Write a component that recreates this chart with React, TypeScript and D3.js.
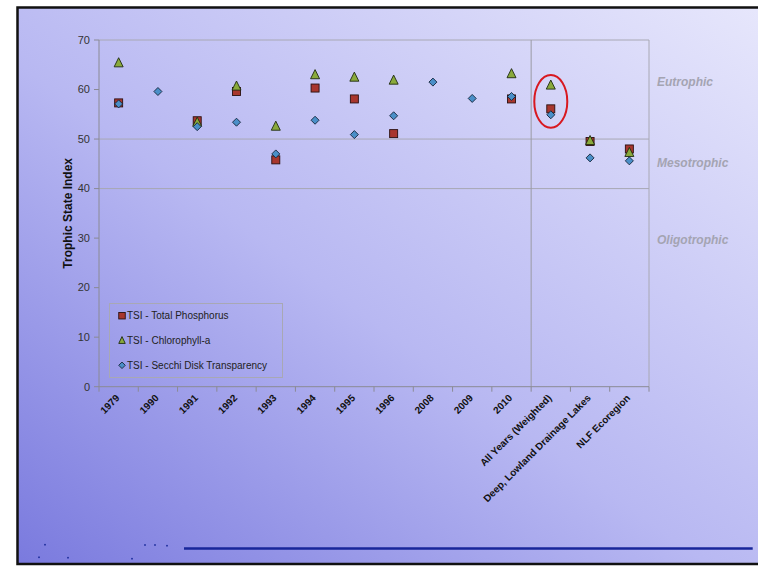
import React from "react";
import * as d3 from "d3";

// Categories along the x axis
const categories = [
  "1979", "1990", "1991", "1992", "1993", "1994", "1995", "1996",
  "2008", "2009", "2010", "All Years (Weighted)", "Deep, Lowland Drainage Lakes", "NLF Ecoregion",
];

// TSI values per category (null = not sampled)
const totalPhosphorus: (number | null)[] = [57.3, null, 53.7, 59.6, 45.8, 60.3, 58.1, 51.1, null, null, 58.1, 56.1, 49.5, 48.0];
const chlorophyll: (number | null)[] = [65.4, null, 53.4, 60.7, 52.6, 63.0, 62.5, 61.9, null, null, 63.2, 60.9, 49.7, 47.3];
const secchi: (number | null)[] = [57.1, 59.6, 52.5, 53.4, 47.0, 53.8, 50.9, 54.7, 61.5, 58.2, 58.6, 54.9, 46.2, 45.6];

const yTicks = [0, 10, 20, 30, 40, 50, 60, 70];
const gridValues = [40, 50];
const seriesNames = ["TSI - Total Phosphorus", "TSI - Chlorophyll-a", "TSI - Secchi Disk Transparency"];
const stateLabels = [
  { label: "Eutrophic", value: 61.5 },
  { label: "Mesotrophic", value: 45.2 },
  { label: "Oligotrophic", value: 29.6 },
];
const highlightCategory = "All Years (Weighted)";

const W = 758;
const H = 566;
const plot = { left: 99, right: 649, top: 40, bottom: 386.7 };

const COLORS = {
  tp: "#a8362e",
  chl: "#8aaa3c",
  sd: "#4a8fc8",
};

function Square({ x, y, s }: { x: number; y: number; s: number }) {
  return <rect x={x - s / 2} y={y - s / 2} width={s} height={s} fill={COLORS.tp} stroke="#2a1010" strokeWidth={0.9} />;
}
function Triangle({ x, y, s }: { x: number; y: number; s: number }) {
  const h = s * 0.9;
  return (
    <path
      d={`M${x},${y - h / 2 - 1}L${x + s / 2},${y + h / 2}L${x - s / 2},${y + h / 2}Z`}
      fill={COLORS.chl}
      stroke="#1e2a10"
      strokeWidth={0.9}
    />
  );
}
function Diamond({ x, y, s }: { x: number; y: number; s: number }) {
  const r = s / 2;
  return (
    <path d={`M${x},${y - r}L${x + r},${y}L${x},${y + r}L${x - r},${y}Z`} fill={COLORS.sd} stroke="#14243a" strokeWidth={0.9} />
  );
}

export default function App() {
  const x = d3.scaleBand<string>().domain(categories).range([plot.left, plot.right]).padding(0);
  const y = d3.scaleLinear().domain([0, 70]).range([plot.bottom, plot.top]);
  const cx = (c: string) => (x(c) as number) + x.bandwidth() / 2;
  const sepX = x(highlightCategory) as number;

  const dots = [
    { values: totalPhosphorus, M: Square },
    { values: chlorophyll, M: Triangle },
    { values: secchi, M: Diamond },
  ];
  const hiIdx = categories.indexOf(highlightCategory);
  const hiVals = [totalPhosphorus[hiIdx], chlorophyll[hiIdx], secchi[hiIdx]].filter((v) => v != null) as number[];
  const hiTop = y(d3.max(hiVals) as number);
  const hiBot = y(d3.min(hiVals) as number);

  return (
    <svg width={W} height={H} style={{ position: "absolute", left: 0, top: 0, fontFamily: "Liberation Sans, Arial, sans-serif" }}>
      <defs>
        <linearGradient id="bg" x1="0" y1="1" x2="1" y2="0">
          <stop offset="0" stopColor="#7a7ade" />
          <stop offset="0.45" stopColor="#b8b8f2" />
          <stop offset="1" stopColor="#e8e8fc" />
        </linearGradient>
      </defs>
      <rect x={0} y={0} width={W} height={H} fill="#ffffff" />
      <rect x={17.5} y={7.5} width={W + 10} height={556.5} fill="url(#bg)" stroke="#111" strokeWidth={2.5} />

      {/* gridlines and plot frame */}
      {gridValues.map((v) => (
        <line key={v} x1={plot.left} x2={plot.right} y1={y(v)} y2={y(v)} stroke="#a8a8b4" strokeWidth={1} />
      ))}
      <line x1={plot.left} x2={plot.right} y1={y(70)} y2={y(70)} stroke="#a8a8b4" />
      <line x1={plot.right} x2={plot.right} y1={y(70)} y2={y(0)} stroke="#a8a8b4" />
      <line x1={sepX} x2={sepX} y1={y(70)} y2={y(0)} stroke="#9a9aa4" />

      {/* y axis */}
      <line x1={plot.left} x2={plot.left} y1={y(70)} y2={y(0)} stroke="#8a8a94" />
      {yTicks.map((t) => (
        <g key={t}>
          <line x1={plot.left - 5} x2={plot.left} y1={y(t)} y2={y(t)} stroke="#8a8a94" />
          <text x={plot.left - 9} y={y(t)} dy="0.35em" textAnchor="end" fontSize={11} fill="#333">
            {t}
          </text>
        </g>
      ))}
      <text
        transform={`translate(72,${(plot.top + plot.bottom) / 2}) rotate(-90)`}
        textAnchor="middle"
        fontSize={12}
        fontWeight="bold"
        fill="#111"
      >
        Trophic State Index
      </text>

      {/* x axis */}
      <line x1={plot.left} x2={plot.right} y1={y(0)} y2={y(0)} stroke="#8a8a94" />
      {categories.map((c, i) => (
        <line key={"t" + i} x1={x(c) as number} x2={x(c) as number} y1={y(0)} y2={y(0) + 5} stroke="#8a8a94" />
      ))}
      <line x1={plot.right} x2={plot.right} y1={y(0)} y2={y(0) + 5} stroke="#8a8a94" />
      {categories.map((c) => (
        <text
          key={c}
          transform={`translate(${cx(c) - 1},${y(0) + 9.5}) rotate(-45)`}
          textAnchor="end"
          dy="0.35em"
          fontSize={10}
          fontWeight="bold"
          fill="#111"
        >
          {c}
        </text>
      ))}

      {/* markers */}
      {dots.map(({ values, M }, si) =>
        values.map((v, i) => (v == null ? null : <M key={si + "-" + i} x={cx(categories[i])} y={y(v)} s={si === 1 ? 9 : 8} />))
      )}

      {/* highlight ellipse */}
      <ellipse
        cx={cx(highlightCategory)}
        cy={(hiTop + hiBot) / 2 + 1.5}
        rx={16.5}
        ry={(hiBot - hiTop) / 2 + 11.5}
        fill="none"
        stroke="#d81820"
        strokeWidth={2}
      />

      {/* trophic state labels */}
      {stateLabels.map((s) => (
        <text
          key={s.label}
          x={657}
          y={y(s.value)}
          dy="0.35em"
          fontSize={12}
          fontWeight="bold"
          fontStyle="italic"
          fill="#a4a4b2"
        >
          {s.label}
        </text>
      ))}

      {/* legend */}
      <rect x={109.5} y={303.5} width={173} height={74} fill="none" stroke="#a8a8b4" />
      {seriesNames.map((name, i) => {
        const ly = 315.7 + i * 24.8;
        const M = dots[i].M;
        return (
          <g key={name}>
            <M x={122} y={ly} s={6.5} />
            <text x={127} y={ly} dy="0.35em" fontSize={10} fill="#222">
              {name}
            </text>
          </g>
        );
      })}

      {/* footer rule and dots */}
      <line x1={184} x2={752.7} y1={548.5} y2={548.5} stroke="#18269a" strokeWidth={2.6} />
      {[
        [45, 544.7],
        [145, 545],
        [155, 545],
        [167, 545.7],
        [39, 557.3],
        [68, 557.7],
        [132, 558.7],
      ].map(([dx, dy], i) => (
        <rect key={i} x={dx - 0.8} y={dy - 0.8} width={1.6} height={1.6} fill="#1a2a9a" />
      ))}
    </svg>
  );
}
